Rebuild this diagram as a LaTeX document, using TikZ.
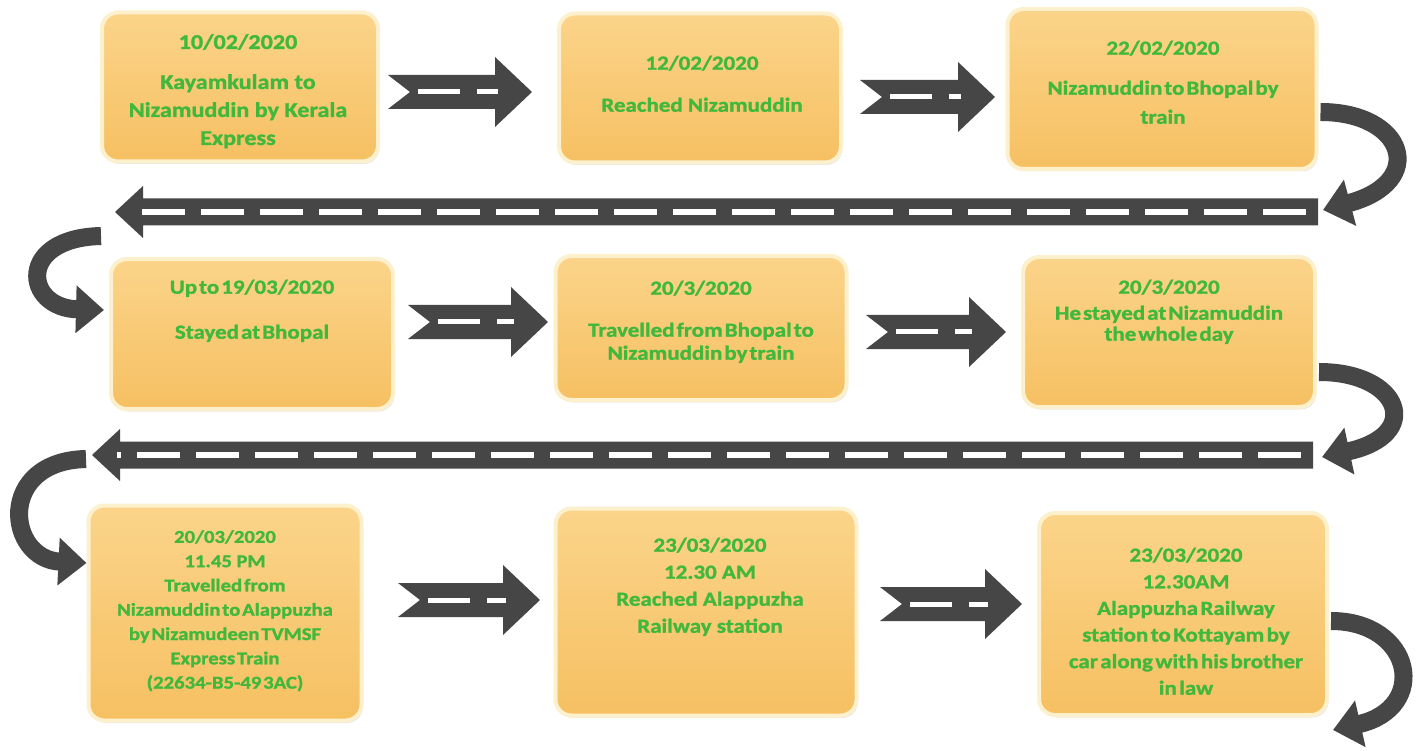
\documentclass[tikz,border=0pt]{standalone}
\usepackage{fontspec}
\newfontfamily\boxfont{Carlito}[FakeStretch=1.15, BoldFeatures={FakeBold=1.3}]
\usetikzlibrary{arrows.meta,shadows,calc}
\definecolor{tgreen}{RGB}{64,184,60}
\definecolor{agray}{RGB}{70,70,70}
\definecolor{boxtop}{RGB}{251,212,138}
\definecolor{boxbot}{RGB}{246,192,98}
\definecolor{rim}{RGB}{253,240,205}

% generic horizontal block arrow: tail, tip, shaft half, head half, head length, notch, dash offset, dash width, dash pattern
\newcommand\blockarrow[9]{%
  \fill[agray] let \p1=(#1), \p2=(#2), \n1={ifthenelse(\x2>\x1,1,-1)} in
    (\x1,{\y1-#3}) -- ({\x2-(\n1)*#5},{\y1-#3}) -- ({\x2-(\n1)*#5},{\y1-#4}) -- (\x2,\y1)
    -- ({\x2-(\n1)*#5},{\y1+#4}) -- ({\x2-(\n1)*#5},{\y1+#3}) -- (\x1,{\y1+#3})
    -- ({\x1+(\n1)*#6},\y1) -- cycle;
  \draw[white, line width=#8, #9] let \p1=(#1), \p2=(#2), \n1={ifthenelse(\x2>\x1,1,-1)} in
    ({\x1+(\n1)*#7},\y1) -- ({\x2-(\n1)*(#5-3)},\y1);
}
\newcommand\shortarrow[2]{\blockarrow{#1}{#2}{17}{35}{37}{22}{30}{5pt}{dash pattern=on 42pt off 17pt}}
\newcommand\roadarrow[2]{\blockarrow{#1}{#2}{13.5}{26}{28}{0}{12}{6pt}{dash pattern=on 43pt off 16pt}}

\begin{document}
\begin{tikzpicture}[x=1pt,y=-1pt,
  box/.style={rectangle, rounded corners=16pt, draw=rim, line width=4pt,
    top color=boxtop, bottom color=boxbot,
    drop shadow={opacity=0.18, shadow xshift=1.5pt, shadow yshift=-2.5pt}, inner sep=0pt},
  txt/.style={text=tgreen, align=center, inner sep=0pt, anchor=north},
  curvearrow/.style={draw=agray, line width=18pt, -{Triangle[width=46pt,length=28pt]}},
]
\useasboundingbox (0,0) rectangle (1419,751);
\fill[white] (0,0) rectangle (1419,751);

% boxes
\node[box, minimum width=276pt, minimum height=149pt] (b1) at (240,87) {};
\node[box, minimum width=282pt, minimum height=149pt] (b2) at (700,88) {};
\node[box, minimum width=309pt, minimum height=160pt] (b3) at (1162,89) {};
\node[box, minimum width=282pt, minimum height=150pt] (b4) at (252,334) {};
\node[box, minimum width=291pt, minimum height=144pt] (b5) at (701,328) {};
\node[box, minimum width=292pt, minimum height=150pt] (b6) at (1169,332) {};
\node[box, minimum width=273pt, minimum height=215pt] (b7) at (225,613) {};
\node[box, minimum width=301pt, minimum height=207pt] (b8) at (706,612) {};
\node[box, minimum width=288pt, minimum height=202pt] (b9) at (1183,614) {};

% texts
\node[txt, font={\boxfont\bfseries\fontsize{21pt}{28pt}\selectfont}] (t1) at (238,34)
  {10/02/2020\\[12pt] Kayamkulam to\\ Nizamuddin by Kerala\\ Express};
\node[txt, font={\boxfont\bfseries\fontsize{20pt}{24pt}\selectfont}] (t2) at (702,55.5)
  {12/02/2020\\[18pt] Reached Nizamuddin};
\node[txt, font={\boxfont\bfseries\fontsize{20pt}{29pt}\selectfont\spaceskip=0.1em plus 0.05em}] (t3) at (1163,40.5)
  {22/02/2020\\[11pt] Nizamuddin to Bhopal by\\ train};
\node[txt, font={\boxfont\bfseries\fontsize{20pt}{24pt}\selectfont\spaceskip=0.1em plus 0.05em}] (t4) at (252,279.5)
  {Up to 19/03/2020\\[21pt] Stayed at Bhopal};
\node[txt, font={\boxfont\bfseries\fontsize{20pt}{23pt}\selectfont\spaceskip=0.1em plus 0.05em}] (t5) at (701,280.5)
  {20/3/2020\\[19pt] Travelled from Bhopal to\\ Nizamuddin by train};
\node[txt, font={\boxfont\bfseries\fontsize{20pt}{21pt}\selectfont\spaceskip=0.1em plus 0.05em}] (t6) at (1169,279.5)
  {20/3/2020\\[5pt] He stayed at Nizamuddin\\ the whole day};
\node[txt, font={\boxfont\bfseries\fontsize{18pt}{24.3pt}\selectfont\spaceskip=0.1em plus 0.05em}] (t7) at (225,530)
  {20/03/2020\\ 11.45\hspace{0.25em}PM\\ Travelled from\\ Nizamuddin to Alappuzha\\ by Nizamudeen TVMSF\\ Express Train\\ (22634-B5-49 3AC)};
\node[txt, font={\boxfont\bfseries\fontsize{20pt}{27pt}\selectfont}] (t8) at (710,537.5)
  {23/03/2020\\ 12.30 AM\\ Reached Alappuzha\\ Railway station};
\node[txt, font={\boxfont\bfseries\fontsize{20pt}{26.6pt}\selectfont\spaceskip=0.12em plus 0.05em}] (t9) at (1186,547.5)
  {23/03/2020\\ 12.30AM\\ Alappuzha Railway\\ station to Kottayam by\\ car along with his brother\\ in law};

% short block arrows
\coordinate (a1t) at (388,92);  \coordinate (a1h) at (532,92);
\coordinate (a2t) at (860,97);  \coordinate (a2h) at (995,97);
\coordinate (a3t) at (408,322); \coordinate (a3h) at (548,322);
\coordinate (a4t) at (866,332); \coordinate (a4h) at (1006,332);
\coordinate (a5t) at (398,600); \coordinate (a5h) at (540,600);
\coordinate (a6t) at (880,604); \coordinate (a6h) at (1022,604);
\shortarrow{a1t}{a1h}
\shortarrow{a2t}{a2h}
\shortarrow{a3t}{a3h}
\shortarrow{a4t}{a4h}
\shortarrow{a5t}{a5h}
\shortarrow{a6t}{a6h}

% long road arrows
\coordinate (r1t) at (1318,212); \coordinate (r1h) at (115,212);
\coordinate (r2t) at (1313,455); \coordinate (r2h) at (92,455);
\roadarrow{r1t}{r1h}
\roadarrow{r2t}{r2h}

% curved arrows
\coordinate (c2s) at (101,236);
\coordinate (c4s) at (86,459);
\coordinate (c5e) at (1333,730);
\draw[curvearrow] ($(b3.east)+(2,23)$) .. controls +(85,0) and +(105,-28) .. ($(r1t)+(5,-2)$);
\draw[curvearrow] (c2s) .. controls +(-85,2) and +(-80,-2) .. ($(b4.west)+(-5,-24)$);
\draw[curvearrow] ($(b6.east)+(2,40)$) .. controls +(82,0) and +(102,-22) .. ($(r2t)+(9,2)$);
\draw[curvearrow] (c4s) .. controls +(-90,2) and +(-80,-4) .. ($(b7.west)+(0,-50)$);
\draw[curvearrow] ($(b9.east)+(2,7)$) .. controls +(82,0) and +(97,-22) .. (c5e);
\end{tikzpicture}
\end{document}
